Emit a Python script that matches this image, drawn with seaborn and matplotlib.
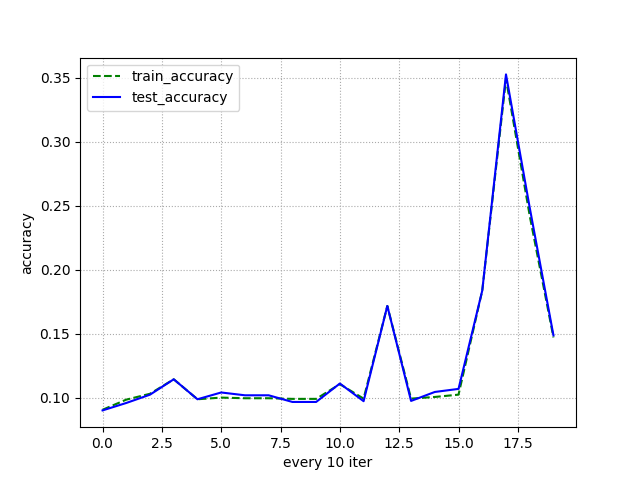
import numpy as np
import pandas as pd
import seaborn as sns
import matplotlib
matplotlib.use('Agg')
import matplotlib.pyplot as plt

# accuracy every 10 iterations
train_accuracy = [0.0905, 0.0984, 0.1030, 0.1143, 0.0987, 0.1000, 0.0995, 0.0995, 0.0990, 0.0990,
                  0.1105, 0.0992, 0.1716, 0.0992, 0.1005, 0.1023, 0.1836, 0.3490, 0.2420, 0.1470]
test_accuracy = [0.0900, 0.0958, 0.1023, 0.1143, 0.0987, 0.1040, 0.1018, 0.1018, 0.0966, 0.0966,
                 0.1110, 0.0972, 0.1716, 0.0974, 0.1044, 0.1068, 0.1836, 0.3525, 0.2484, 0.1486]

steps = np.arange(len(train_accuracy))
df = pd.DataFrame({'step': steps, 'train': train_accuracy, 'test': test_accuracy})

fig, ax = plt.subplots(figsize=(6.4, 4.8), dpi=100)
sns.lineplot(data=df, x='step', y='train', ax=ax, color='green', linestyle='--', label='train_accuracy')
sns.lineplot(data=df, x='step', y='test', ax=ax, color='blue', linestyle='-', label='test_accuracy')

ax.set_xlabel('every 10 iter')
ax.set_ylabel('accuracy')
ax.grid(True, linestyle=':', color='#aaaaaa')
ax.legend(loc='upper left')

plt.savefig('out.png')
